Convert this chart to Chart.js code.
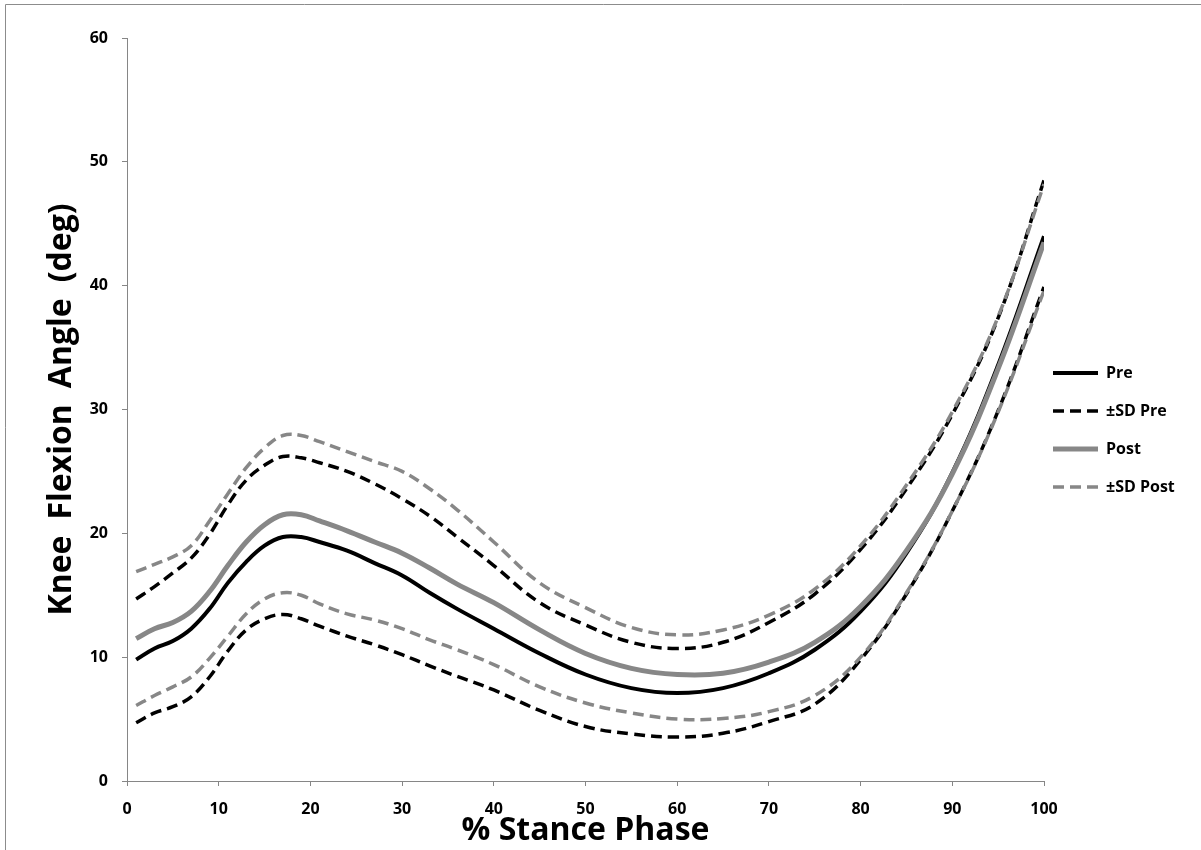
<!DOCTYPE html>
<html>
<head>
<meta charset="utf-8">
<script src="https://cdn.jsdelivr.net/npm/chart.js@4/dist/chart.umd.min.js"></script>
<style>
  html, body { margin: 0; padding: 0; background: #ffffff; }
  #wrap { position: relative; width: 1201px; height: 850px; }
  canvas { display: block; }
</style>
</head>
<body>
<div id="wrap"><canvas id="c" width="1201" height="850"></canvas></div>
<script>
// ---- data ----
const stancePct   = [1, 3, 5, 7, 9, 11, 13, 15, 17, 19, 21, 24, 27, 30, 33, 36, 40, 45, 50, 55, 60, 65, 70, 75, 80, 85, 90, 95, 100];
const preMean     = [9.8, 10.7, 11.3, 12.3, 13.9, 16.0, 17.7, 19.0, 19.7, 19.7, 19.3, 18.6, 17.6, 16.6, 15.2, 13.9, 12.3, 10.3, 8.6, 7.5, 7.1, 7.5, 8.7, 10.6, 13.7, 18.4, 24.9, 33.6, 44.0];
const preSdUpper  = [14.7, 15.7, 16.8, 18.0, 19.9, 22.3, 24.3, 25.5, 26.2, 26.1, 25.7, 25.0, 24.0, 22.8, 21.4, 19.7, 17.4, 14.4, 12.6, 11.2, 10.7, 11.2, 12.8, 15.1, 18.7, 23.6, 29.6, 37.4, 48.5];
const preSdLower  = [4.7, 5.5, 6.0, 6.8, 8.4, 10.5, 12.2, 13.1, 13.45, 13.1, 12.5, 11.7, 11.0, 10.2, 9.3, 8.45, 7.35, 5.7, 4.4, 3.8, 3.55, 3.85, 4.8, 6.2, 9.8, 15.1, 21.8, 29.9, 39.9];
const postMean    = [11.5, 12.3, 12.8, 13.7, 15.3, 17.4, 19.3, 20.7, 21.5, 21.5, 21.0, 20.2, 19.3, 18.4, 17.2, 15.9, 14.4, 12.2, 10.3, 9.1, 8.6, 8.7, 9.6, 11.2, 14.1, 18.6, 24.8, 33.3, 43.5];
const postSdUpper = [16.9, 17.5, 18.1, 19.0, 21.0, 23.2, 25.3, 26.9, 27.9, 27.9, 27.4, 26.6, 25.8, 25.0, 23.6, 21.9, 19.3, 16.0, 14.0, 12.4, 11.8, 12.2, 13.4, 15.5, 19.0, 23.9, 29.8, 37.5, 48.2];
const postSdLower = [6.1, 6.9, 7.6, 8.4, 9.9, 11.7, 13.5, 14.7, 15.2, 15.0, 14.3, 13.5, 13.0, 12.3, 11.4, 10.6, 9.4, 7.6, 6.3, 5.5, 5.0, 5.05, 5.6, 6.9, 10.0, 15.2, 21.8, 29.8, 39.6];

const seriesLabels = ['Pre', '±SD Pre', '±SD Pre', 'Post', '±SD Post', '±SD Post'];
const xTitle = '% Stance Phase';
const yTitle = 'Knee\u2002Flexion\u2002Angle\u2002(deg)';

// ---- styling / layout ----
const BLACK = '#000000';
const GREY = '#878787';
const AXIS_GREY = '#868686';
const FONT = "'Open Sans', 'Liberation Sans', sans-serif";
const Y_AXIS_WIDTH = 127;
const X_AXIS_HEIGHT = 69;
const LEGEND_WIDTH = 157;
const LEGEND_PAD = 22;
const LEGEND_LINE_X = 1053;
const LEGEND_DY = -14;
const DASH = [11, 6];

const pts = (ys) => stancePct.map((x, i) => ({ x: x, y: ys[i] }));

const lineBase = {
  pointRadius: 0,
  pointHoverRadius: 0,
  fill: false,
  tension: 0.4,
  borderCapStyle: 'butt',
  borderJoinStyle: 'round'
};

const datasets = [
  Object.assign({}, lineBase, { label: seriesLabels[0], data: pts(preMean),     borderColor: BLACK, backgroundColor: BLACK, borderWidth: 4,   order: 3 }),
  Object.assign({}, lineBase, { label: seriesLabels[1], data: pts(preSdUpper),  borderColor: BLACK, backgroundColor: BLACK, borderWidth: 3.5, borderDash: DASH, order: 4 }),
  Object.assign({}, lineBase, { label: seriesLabels[2], data: pts(preSdLower),  borderColor: BLACK, backgroundColor: BLACK, borderWidth: 3.5, borderDash: DASH, order: 4, hideInLegend: true }),
  Object.assign({}, lineBase, { label: seriesLabels[3], data: pts(postMean),    borderColor: GREY,  backgroundColor: GREY,  borderWidth: 5,   order: 1 }),
  Object.assign({}, lineBase, { label: seriesLabels[4], data: pts(postSdUpper), borderColor: GREY,  backgroundColor: GREY,  borderWidth: 3.5, borderDash: DASH, order: 2 }),
  Object.assign({}, lineBase, { label: seriesLabels[5], data: pts(postSdLower), borderColor: GREY,  backgroundColor: GREY,  borderWidth: 3.5, borderDash: DASH, order: 2, hideInLegend: true })
];

const framePlugin = {
  id: 'frame',
  beforeDraw(chart) {
    const ctx = chart.ctx;
    ctx.save();
    ctx.strokeStyle = '#8c8c8c';
    ctx.lineWidth = 1;
    ctx.beginPath();
    ctx.moveTo(5.5, 850);
    ctx.lineTo(5.5, 4.5);
    ctx.lineTo(1201, 4.5);
    ctx.stroke();
    ctx.restore();
  }
};

const legendPlacePlugin = {
  id: 'legendPlace',
  beforeLayout(chart) {
    const lg = chart.legend;
    if (lg && !lg.__fixedFit) {
      const fit = lg.fit;
      lg.fit = function () { fit.call(this); this.width = LEGEND_WIDTH; };
      lg.__fixedFit = true;
    }
  },
  afterLayout(chart) {
    const lg = chart.legend;
    if (!lg) return;
    const dx = (LEGEND_LINE_X - LEGEND_PAD) - lg.left;
    lg.left += dx; lg.right += dx;
    lg.top += LEGEND_DY; lg.bottom += LEGEND_DY;
  }
};

Chart.defaults.font.family = FONT;
Chart.defaults.color = '#000000';
const defaultGenerateLabels = Chart.defaults.plugins.legend.labels.generateLabels;

new Chart(document.getElementById('c'), {
  type: 'line',
  data: { datasets: datasets },
  options: {
    responsive: false,
    devicePixelRatio: 1,
    animation: false,
    events: [],
    layout: { padding: { top: 38, right: 0, bottom: 0, left: 0 } },
    plugins: {
      tooltip: { enabled: false },
      title: { display: false },
      legend: {
        display: true,
        position: 'right',
        align: 'center',
        labels: {
          usePointStyle: true,
          pointStyle: 'line',
          pointStyleWidth: 45,
          padding: LEGEND_PAD,
          color: '#000000',
          font: { family: FONT, size: 16, weight: 'bold' },
          generateLabels: (chart) => defaultGenerateLabels(chart).map((it) => {
            const ds = chart.data.datasets[it.datasetIndex];
            it.lineDash = ds.borderDash || [];
            it.lineWidth = ds.borderWidth;
            it.strokeStyle = ds.borderColor;
            it.lineCap = 'butt';
            return it;
          }),
          filter: (item, data) => !data.datasets[item.datasetIndex].hideInLegend,
          sort: (a, b) => a.datasetIndex - b.datasetIndex
        }
      }
    },
    scales: {
      x: {
        type: 'linear',
        min: 0,
        max: 100,
        afterFit: (s) => { s.height = X_AXIS_HEIGHT; },
        border: { display: true, color: AXIS_GREY, width: 1 },
        grid: { display: true, drawOnChartArea: false, drawTicks: true, tickLength: 5, color: AXIS_GREY },
        ticks: {
          stepSize: 10,
          padding: 14,
          maxRotation: 0,
          color: '#000000',
          font: { family: FONT, size: 16, weight: 'bold' }
        },
        title: {
          display: true,
          text: xTitle,
          color: '#000000',
          font: { family: FONT, size: 32, weight: 'bold' },
          padding: { top: 0, bottom: 0 }
        }
      },
      y: {
        type: 'linear',
        min: 0,
        max: 60,
        afterFit: (s) => { s.width = Y_AXIS_WIDTH; },
        border: { display: true, color: AXIS_GREY, width: 1 },
        grid: { display: true, drawOnChartArea: false, drawTicks: true, tickLength: 5, color: AXIS_GREY },
        ticks: {
          stepSize: 10,
          padding: 14,
          color: '#000000',
          font: { family: FONT, size: 16, weight: 'bold' }
        },
        title: {
          display: true,
          text: yTitle,
          color: '#000000',
          font: { family: FONT, size: 32, weight: 'bold' },
          padding: { top: 43, bottom: 0 }
        }
      }
    }
  },
  plugins: [framePlugin, legendPlacePlugin]
});
</script>
</body>
</html>
